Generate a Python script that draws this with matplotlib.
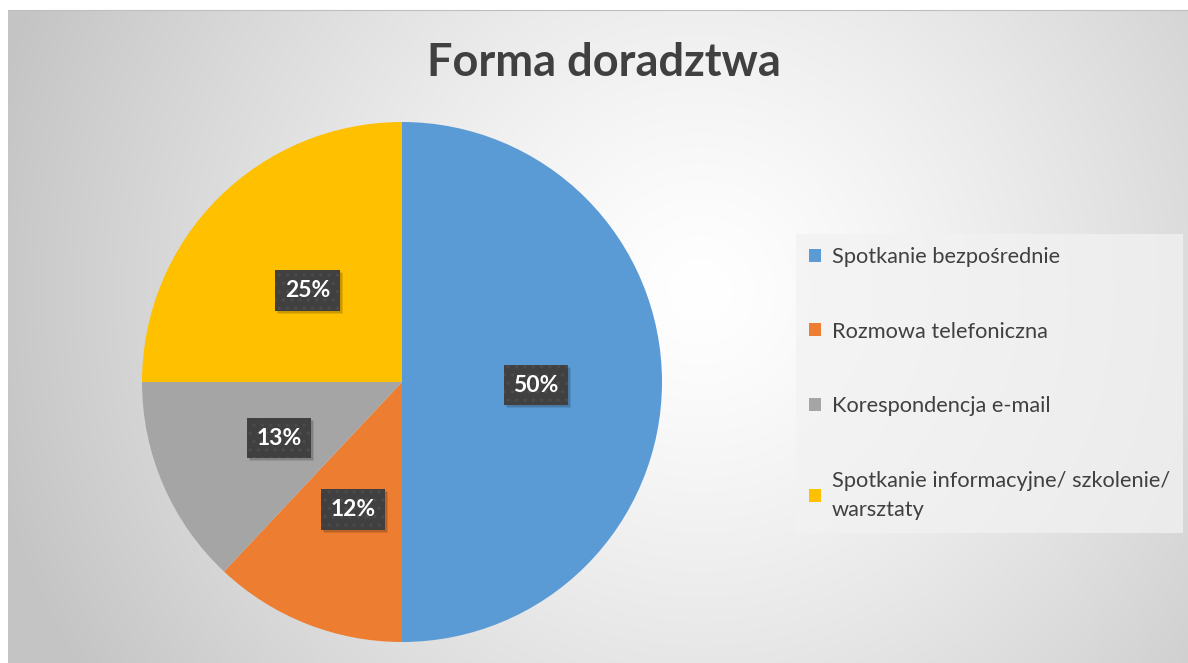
import numpy as np
import matplotlib
matplotlib.use("Agg")
import matplotlib.pyplot as plt
from matplotlib.patches import Patch, Rectangle

title = "Forma doradztwa"
categories = ["Spotkanie bezpośrednie", "Rozmowa telefoniczna",
              "Korespondencja e-mail", "Spotkanie informacyjne/ szkolenie/\nwarsztaty"]
values = [50, 12, 13, 25]
colors = ["#5B9BD5", "#ED7D31", "#A5A5A5", "#FFC000"]

W, H = 1188, 663
plt.rcParams['font.family'] = ['Lato', 'DejaVu Sans']
plt.rcParams['hatch.linewidth'] = 1.2
fig = plt.figure(figsize=(W / 100, H / 100), dpi=100)
fig.patch.set_facecolor("white")

# background chart area with radial gradient
bx0, by0 = 8, 10
bg = fig.add_axes([bx0 / W, 0, (W - bx0) / W, (H - by0) / H], zorder=0)
yy, xx = np.mgrid[by0:H, bx0:W]
d = np.hypot(xx - 700, yy - 290) / 730.0
shade = 1 - 0.23 * np.clip(d, 0, 1) ** 1.3
img = np.dstack([shade] * 3)
bg.imshow(img, extent=[0, 1, 0, 1], aspect='auto', origin='upper')
bg.set_xlim(0, 1); bg.set_ylim(0, 1)
bg.set_xticks([]); bg.set_yticks([])
for s in bg.spines.values():
    s.set_visible(False)
bg.spines['top'].set_visible(True)
bg.spines['top'].set_color('#bfbfbf')

# pie
cx, cy, r = 402, 382, 260
ax = fig.add_axes([(cx - r) / W, (H - cy - r) / H, 2 * r / W, 2 * r / H], zorder=2)
wedges, texts, autotexts = ax.pie(values, colors=colors, startangle=90, counterclock=False,
                                  autopct=lambda p: f"{p:.0f}%", pctdistance=0.515,
                                  wedgeprops=dict(linewidth=0),
                                  textprops=dict(color="white", fontsize=16.5, fontweight="bold"))
ax.set_xlim(-1, 1); ax.set_ylim(-1, 1)
ax.set_aspect('equal')
for t in autotexts:
    x, y = t.get_position()
    t.set_position((x, y - 0.012))
    t.set_bbox(dict(boxstyle="square,pad=0.42", facecolor="#404040", edgecolor="#4b4b4b",
                    linewidth=0, hatch=".."))

# title
fig.text(604 / W, 1 - 63 / H, title, ha='center', va='center', fontsize=32.5,
         fontweight='bold', color='#404040', zorder=3)

# legend
handles = [Patch(facecolor=c, edgecolor='none') for c in colors]
leg = fig.legend(handles, categories, loc='upper left',
                 bbox_to_anchor=(796 / W, 1 - 234 / H), frameon=True, fontsize=15.7,
                 labelspacing=2.5, handlelength=0.55, handleheight=0.55, handletextpad=0.5,
                 borderpad=0.6, borderaxespad=0, fancybox=False, labelcolor='#404040')
for txt in leg.get_texts():
    txt.set_linespacing(1.6)
leg.get_frame().set_facecolor('#f2f2f2')
leg.get_frame().set_alpha(0.75)
leg.get_frame().set_edgecolor('none')
leg.set_zorder(3)

# soft shadows behind the label boxes
fig.canvas.draw()
for t in autotexts:
    bb = t.get_bbox_patch().get_window_extent()
    for k, a in ((3, 0.10), (2, 0.12)):
        ax.add_patch(Rectangle((bb.x0 + k, bb.y0 - k), bb.width, bb.height, transform=None,
                               facecolor=(0, 0, 0, a), edgecolor='none', zorder=2.5))

fig.savefig("out.png", dpi=100)
